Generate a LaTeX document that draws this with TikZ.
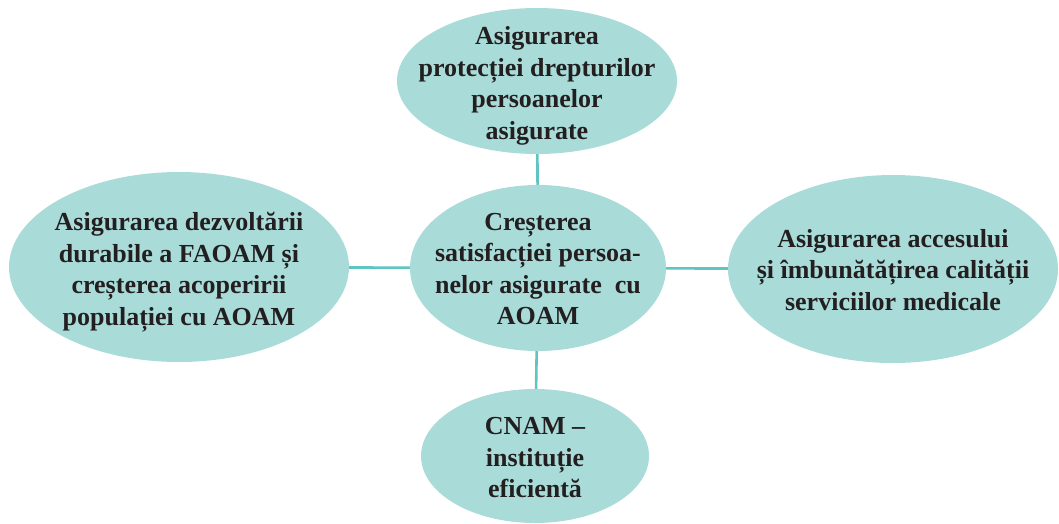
\documentclass[tikz,border=0pt]{standalone}
\usepackage{fontspec}
\setmainfont{Liberation Serif}
\usetikzlibrary{shapes.geometric}
\definecolor{bubfill}{HTML}{A9DCD9}
\definecolor{linkcol}{HTML}{5FC5C2}
\definecolor{txt}{HTML}{231F20}
\begin{document}
\begin{tikzpicture}[x=1pt,y=-1pt,
  bub/.style={ellipse, fill=bubfill, draw=none, inner sep=0pt},
  lbl/.style={align=center, text=txt, font=\fontsize{26}{31.5}\selectfont\bfseries, inner sep=0pt},
  link/.style={draw=linkcol, line width=2.6pt}]
\useasboundingbox (0,0) rectangle (1059,523);
\node[bub, minimum width=280pt, minimum height=146pt] (top) at (537,81) {};
\node[bub, minimum width=256pt, minimum height=166pt] (ctr) at (538,268) {};
\node[bub, minimum width=340pt, minimum height=190pt] (lft) at (179,267) {};
\node[bub, minimum width=330pt, minimum height=188pt] (rgt) at (893,269) {};
\node[bub, minimum width=228pt, minimum height=134pt] (bot) at (535,456) {};
\draw[link] (top) -- (ctr);
\draw[link] (lft) -- (ctr);
\draw[link] (ctr) -- (rgt);
\draw[link] (ctr) -- (bot);
\node[lbl] (topt) at ([yshift=-5pt]top) {Asigurarea\\protecției drepturilor\\persoanelor\\asigurate};
\node[lbl] (ctrt) at ([yshift=-1pt]ctr) {Creșterea\\satisfacției persoa-\\nelor asigurate\ \ cu\\AOAM};
\node[lbl] (lftt) at ([yshift=-5pt]lft) {Asigurarea dezvoltării\\durabile a FAOAM și\\creșterea acoperirii\\populației cu AOAM};
\node[lbl] (rgtt) at ([yshift=-1pt]rgt) {Asigurarea accesului\\și îmbunătățirea calității\\serviciilor medicale};
\node[lbl] (bott) at ([yshift=-2pt]bot) {CNAM –\\instituție\\eficientă};
\end{tikzpicture}
\end{document}
